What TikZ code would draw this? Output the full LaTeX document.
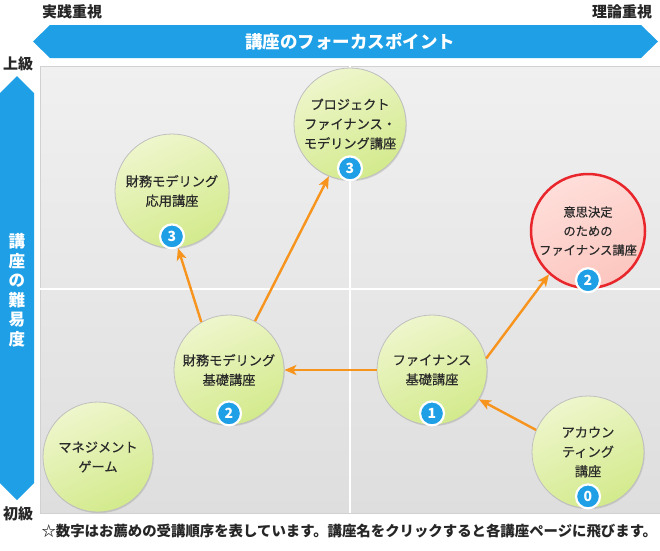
\documentclass[tikz,border=0pt]{standalone}
\usepackage{fontspec}
\setmainfont{Noto Sans CJK JP}
\newfontface\medfont{Noto Sans CJK JP}[FakeBold=0.5]
\usetikzlibrary{arrows.meta,shadows,calc}
\definecolor{bluebar}{HTML}{1E9FE6}
\definecolor{orng}{HTML}{F7941D}
\definecolor{txt}{HTML}{2A2A2A}
\definecolor{gA}{HTML}{EEF6CC}
\definecolor{gB}{HTML}{D3EA8C}
\definecolor{pA}{HTML}{FFDEDA}
\definecolor{pB}{HTML}{FCC6BF}
\definecolor{redb}{HTML}{E8262B}
\definecolor{bgA}{HTML}{F0F0F0}
\definecolor{bgB}{HTML}{DEDEDE}
\begin{document}
\begin{tikzpicture}[x=1pt,y=-1pt,
  course/.style={circle, inner sep=0pt, align=center, text=txt,
    font=\medfont\fontsize{13.2}{19.5}\selectfont,
    shading=axis, top color=gA, bottom color=gB, shading angle=25,
    draw=black!25, line width=0.8pt,
    drop shadow={opacity=0.25, shadow xshift=0.8pt, shadow yshift=-1.2pt}},
  badge/.style={circle, fill=bluebar, draw=white, line width=2.2pt,
    minimum size=24pt, inner sep=0pt, text=white,
    font=\fontsize{14}{14}\selectfont\bfseries},
  arr/.style={draw=orng, line width=2.4pt,
    -{Stealth[length=12pt,width=10pt,inset=3pt]}},
  head/.style={font=\fontsize{15}{17}\selectfont\bfseries, text=black!85},
  barlabel/.style={font=\fontsize{17.5}{20}\selectfont\bfseries, text=white, align=center}
]
\useasboundingbox (0,0) rectangle (660,550);
\fill[white] (0,0) rectangle (660,550);

% top labels and bar
\node[head] (prac) at (72,12) {実践重視};
\node[head] (theo) at (622,12) {理論重視};
\fill[bluebar] (33,41.5) -- (50,25) -- (641,25) -- (658,41.5) -- (641,58) -- (50,58) -- cycle;
\node[barlabel] (focus) at (350,41.5) {講座のフォーカスポイント};

% left bar
\node[head] (adv) at (18,64) {上級};
\node[head] (beg) at (18,514) {初級};
\fill[bluebar] (17,76) -- (34,93) -- (34,483) -- (17,500) -- (0,483) -- (0,93) -- cycle;
\node[barlabel, font=\fontsize{16.5}{19.5}\selectfont\bfseries] (diff) at (17,290) {講\\座\\の\\難\\易\\度};

% plot area
\shade[top color=bgA, bottom color=bgB] (40,66) rectangle (660,513);
\draw[black!18, line width=0.8pt] (40,66) rectangle (660,513);
\draw[white, line width=1.5pt] (350,66) -- (350,513);
\draw[white, line width=1.5pt] (40,289) -- (660,289);

% courses
\node[course, minimum size=112pt] (proj) at (350,124) {プロジェクト\\ファイナンス・\\モデリング講座};
\node[course, minimum size=114pt] (app) at (172,191) {財務モデリング\\応用講座};
\node[circle, inner sep=0pt, align=center, text=txt,
    font=\medfont\fontsize{12.3}{19}\selectfont,
    shading=axis, top color=pA, bottom color=pB, shading angle=25,
    draw=redb, line width=2.5pt, minimum size=114pt,
    drop shadow={opacity=0.22, shadow xshift=0.8pt, shadow yshift=-1.2pt}] (dec) at (588,231) {意思決定\\のための\\ファイナンス講座};
\node[course, minimum size=110pt] (fmb) at (229,370) {財務モデリング\\基礎講座};
\node[course, minimum size=110pt] (fin) at (432,370) {ファイナンス\\基礎講座};
\node[course, minimum size=112pt] (acc) at (588,452) {アカウン\\ティング\\講座};
\node[course, minimum size=110pt] (mg) at (98,457) {マネジメント\\ゲーム};

% badges
\node[badge] (bproj) at ([yshift=12pt]proj.south) {3};
\node[badge] (bapp) at ([yshift=12pt]app.south) {3};
\node[badge] (bdec) at ([yshift=9pt]dec.south) {2};
\node[badge] (bfmb) at ([yshift=12pt]fmb.south) {2};
\node[badge] (bfin) at ([yshift=12pt]fin.south) {1};
\node[badge] (bacc) at ([yshift=12pt]acc.south) {0};

% arrows
\draw[arr] (fin.west) -- (fmb.east);
\draw[arr] (acc.157) -- (fin.-32);
\draw[arr] (fin.12) -- (dec.228);
\draw[arr] (fmb.120) -- (app.-84);
\draw[arr] (fmb.62) -- (proj.-112);

% note
\node[anchor=west, font=\fontsize{14.4}{16}\selectfont\bfseries, text=black!85] (note) at (38,531) {☆数字はお薦めの受講順序を表しています。講座名をクリックすると各講座ページに飛びます。};
\end{tikzpicture}
\end{document}
